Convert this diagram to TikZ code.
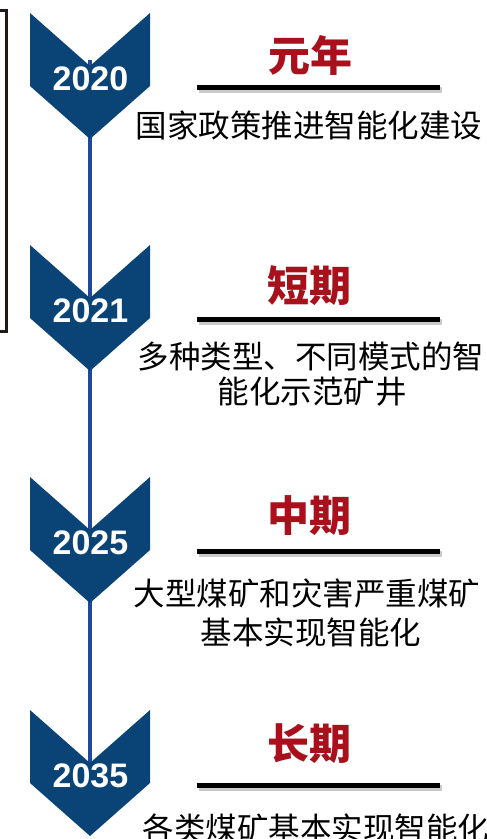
\documentclass[tikz,border=0pt]{standalone}
\usepackage{fontspec}
\setmainfont{Liberation Sans}
\newfontfamily\cjk{Noto Sans CJK SC}
\definecolor{chevblue}{HTML}{0A4477}
\definecolor{lineblue}{HTML}{1F4A9A}
\definecolor{titlered}{HTML}{A8101C}
\definecolor{brk}{HTML}{231815}
\tikzset{
  chevron/.pic={\fill[chevblue] (-60,0) -- (0,53) -- (60,0) -- (60,73) -- (0,126) -- (-60,73) -- cycle;},
  year/.style={text=white, inner sep=0pt, font=\bfseries\fontsize{34}{34}\selectfont},
  ttl/.style={text=titlered, inner sep=0pt, font=\cjk\bfseries\fontsize{42}{46}\selectfont},
  body/.style={text=black, inner sep=0pt, font=\cjk\fontsize{31.5}{36}\selectfont},
  rulebar/.style={line width=5pt, black},
  ruleshadow/.style={line width=6pt, black!35, opacity=0.6},
}
\begin{document}
\begin{tikzpicture}[x=1pt,y=-1pt]
\useasboundingbox (0,0) rectangle (487,839);
% bracket
\draw[brk, line width=3pt] (0,10) -- (6,10) -- (6,331) -- (0,331);
% timeline line (behind chevrons)
\coordinate (ls) at (90,60);
\coordinate (le) at (90,765);
\draw[lineblue, line width=4pt] (ls) -- (le);
% chevrons
\foreach \t/\yr/\n in {13/2020/a,245/2021/b,477/2025/c,710/2035/d}{
  \pic at (90,\t) {chevron};
  \node[year] (y\n) at (90.5,\t+66) {\yr};
}
% block 1
\node[ttl] (t1) at (310,55) {元年};
\coordinate (r1a) at (197,87); \coordinate (r1b) at (440,87);
\draw[ruleshadow] ([shift={(2,3)}]r1a) -- ([shift={(2,3)}]r1b);
\draw[rulebar] (r1a) -- (r1b);
\node[body] (b1) at (309,125) {国家政策推进智能化建设};
% block 2
\node[ttl] (t2) at (309,286) {短期};
\coordinate (r2a) at (197,319); \coordinate (r2b) at (440,319);
\draw[ruleshadow] ([shift={(2,3)}]r2a) -- ([shift={(2,3)}]r2b);
\draw[rulebar] (r2a) -- (r2b);
\node[body] (b2a) at (311,356) {多种类型、不同模式的智};
\node[body] (b2b) at (312,392) {能化示范矿井};
% block 3
\node[ttl] (t3) at (309,516) {中期};
\coordinate (r3a) at (197,551); \coordinate (r3b) at (440,551);
\draw[ruleshadow] ([shift={(2,3)}]r3a) -- ([shift={(2,3)}]r3b);
\draw[rulebar] (r3a) -- (r3b);
\node[body] (b3a) at (307,593) {大型煤矿和灾害严重煤矿};
\node[body] (b3b) at (311,632) {基本实现智能化};
% block 4
\node[ttl] (t4) at (309,744) {长期};
\coordinate (r4a) at (197,785); \coordinate (r4b) at (440,785);
\draw[ruleshadow] ([shift={(2,3)}]r4a) -- ([shift={(2,3)}]r4b);
\draw[rulebar] (r4a) -- (r4b);
\node[body] (b4) at (316,828) {各类煤矿基本实现智能化};
\end{tikzpicture}
\end{document}
